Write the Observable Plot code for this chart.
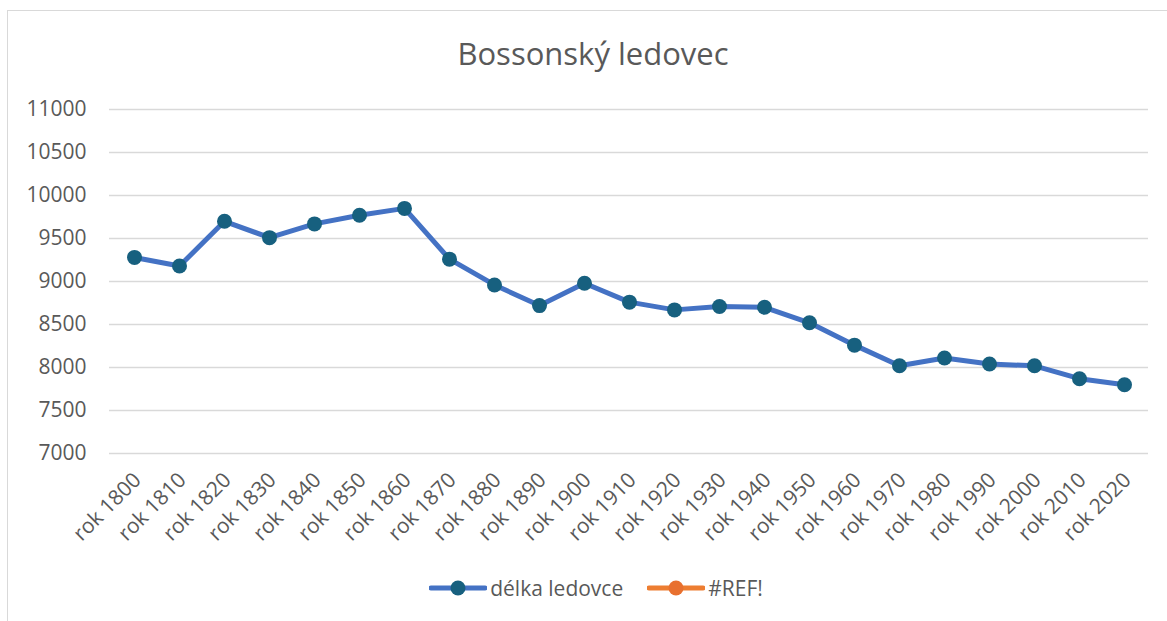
<!DOCTYPE html>
<html>
<head>
<meta charset="utf-8">
<script src="https://cdn.jsdelivr.net/npm/d3@7"></script>
<script src="https://cdn.jsdelivr.net/npm/@observablehq/plot@0.6"></script>
<style>
  html, body { margin: 0; padding: 0; background: #fff; }
  #wrap { position: relative; width: 1167px; height: 621px; overflow: hidden; font-family: "Open Sans", sans-serif; }
  #frame { position: absolute; left: 7px; top: 10px; width: 1200px; height: 700px; border-left: 1.5px solid #D9D9D9; border-top: 1.5px solid #D9D9D9; box-sizing: border-box; }
  #title { position: absolute; left: 0; width: 1186px; top: 32px; text-align: center; font-size: 31px; color: #595959; font-weight: 400; }
  #chart { position: absolute; left: 0; top: 0; }
  #legend { position: absolute; left: 0; top: 574px; width: 1192px; display: flex; justify-content: center; align-items: center; gap: 24px; font-size: 21px; color: #595959; }
  .item { display: flex; align-items: center; }
  .item svg { margin-right: 3px; }
</style>
</head>
<body>
<div id="wrap">
  <div id="frame"></div>
  <div id="title"></div>
  <div id="chart"></div>
  <div id="legend"></div>
</div>
<script>
const titleText = "Bossonský ledovec";
const years = ["rok 1800","rok 1810","rok 1820","rok 1830","rok 1840","rok 1850","rok 1860","rok 1870","rok 1880","rok 1890","rok 1900","rok 1910","rok 1920","rok 1930","rok 1940","rok 1950","rok 1960","rok 1970","rok 1980","rok 1990","rok 2000","rok 2010","rok 2020"];
const lengths = [9280, 9180, 9700, 9510, 9670, 9770, 9850, 9260, 8960, 8720, 8980, 8760, 8670, 8710, 8700, 8520, 8260, 8020, 8110, 8040, 8020, 7870, 7800];
const yTicks = [7000, 7500, 8000, 8500, 9000, 9500, 10000, 10500, 11000];
const seriesNames = ["délka ledovce", "#REF!"];
const lineColors = ["#4472C4", "#ED7D31"];
const markerColors = ["#17607F", "#E8702F"];

const data = years.map((y, i) => ({year: y, value: lengths[i]}));

document.getElementById("title").textContent = titleText;

const chart = Plot.plot({
  width: 1167,
  height: 560,
  marginTop: 109,
  marginBottom: 107,
  marginLeft: 109,
  marginRight: 19,
  style: {fontFamily: "'Open Sans', sans-serif", fontSize: "21px", color: "#595959", background: "transparent", overflow: "visible"},
  x: {type: "point", domain: years, padding: 0.5},
  y: {domain: [7000, 11000]},
  marks: [
    Plot.gridY(yTicks, {stroke: "#D9D9D9", strokeOpacity: 1, strokeWidth: 1.5}),
    Plot.axisY({ticks: yTicks, tickSize: 0, tickPadding: 23, tickFormat: d3.format("d"), label: null, fill: "#595959"}),
    Plot.axisX({tickSize: 0, tickRotate: -45, tickPadding: 23, dx: 3, label: null, fill: "#595959"}),
    Plot.line(data, {x: "year", y: "value", stroke: lineColors[0], strokeWidth: 5, strokeLinejoin: "round"}),
    Plot.dot(data, {x: "year", y: "value", r: 7.5, fill: markerColors[0], stroke: "none"})
  ]
});
document.getElementById("chart").appendChild(chart);

const legend = document.getElementById("legend");
seriesNames.forEach((name, i) => {
  const item = document.createElement("div");
  item.className = "item";
  item.innerHTML = `<svg width="58" height="20"><line x1="2" y1="10" x2="56" y2="10" stroke="${lineColors[i]}" stroke-width="5" stroke-linecap="round"/><circle cx="29" cy="10" r="7.5" fill="${markerColors[i]}"/></svg><span>${name}</span>`;
  legend.appendChild(item);
});
</script>
</body>
</html>
